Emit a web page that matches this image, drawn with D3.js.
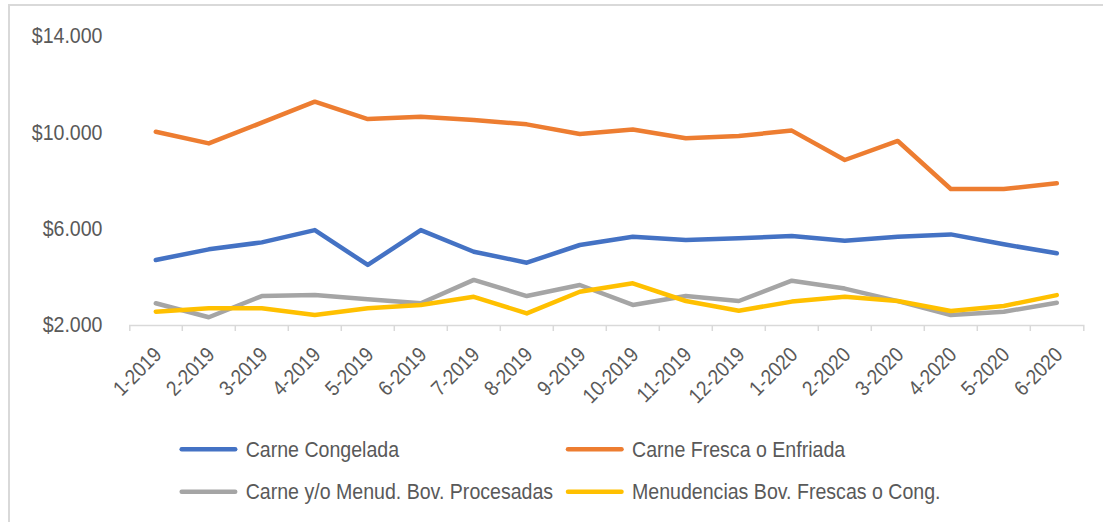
<!DOCTYPE html>
<html>
<head>
<meta charset="utf-8">
<script src="https://cdn.jsdelivr.net/npm/d3@7"></script>
<style>
  body { margin: 0; background: #ffffff; }
  text { font-family: "Liberation Sans", Arial, sans-serif; fill: #595959; }
</style>
</head>
<body>
<div id="chart"></div>
<script>
// Chart size
const FRAME_WIDTH = 1103;
const FRAME_HEIGHT = 522;

// Data
const MONTHS = ["1-2019", "2-2019", "3-2019", "4-2019", "5-2019", "6-2019", "7-2019", "8-2019", "9-2019",
  "10-2019", "11-2019", "12-2019", "1-2020", "2-2020", "3-2020", "4-2020", "5-2020", "6-2020"];

const CONGELADA = [4660, 5100, 5390, 5900, 4450, 5900, 5000, 4545, 5280,
  5625, 5490, 5560, 5650, 5460, 5625, 5720, 5310, 4935];
const FRESCA = [9985, 9500, 10360, 11230, 10510, 10610, 10470, 10290, 9890,
  10080, 9710, 9810, 10030, 8810, 9600, 7605, 7605, 7840];
const PROCESADAS = [2860, 2280, 3160, 3200, 3030, 2860, 3830, 3160, 3620,
  2790, 3160, 2955, 3800, 3470, 2950, 2370, 2510, 2880];
const MENUDENCIAS = [2510, 2650, 2650, 2370, 2650, 2790, 3130, 2440, 3340,
  3690, 2955, 2550, 2930, 3130, 2955, 2540, 2750, 3200];

const SERIES_NAMES = ["Carne Congelada", "Carne Fresca o Enfriada",
  "Carne y/o Menud. Bov. Procesadas", "Menudencias Bov. Frescas o Cong."];
const SERIES_VALUES = [CONGELADA, FRESCA, PROCESADAS, MENUDENCIAS];
const COLORS = ["#4472C4", "#ED7D31", "#A5A5A5", "#FFC000"];

const Y_TICKS = [2000, 6000, 10000, 14000];

// text in the picture is a bit narrow
const SQUEEZE = 0.89;

const FRAME = d3.select("#chart").append("svg")
    .attr("width", FRAME_WIDTH)
    .attr("height", FRAME_HEIGHT);

// chart border (only top and left show)
FRAME.append("path")
    .attr("d", "M9," + FRAME_HEIGHT + "V5H" + FRAME_WIDTH)
    .attr("fill", "none")
    .attr("stroke", "#d9d9d9")
    .attr("stroke-width", 2);

// Scales
const xSCALE = d3.scaleBand()
    .domain(MONTHS)
    .range([129.3, 1083.3]);

const ySCALE = d3.scaleLinear()
    .domain([2000, 14000])
    .range([324, 35]);

const locale = d3.formatLocale({decimal: ",", thousands: ".", grouping: [3], currency: ["$", ""]});
const money = locale.format("$,.0f");

// y-axis, labels only
const yAxis = FRAME.append("g")
    .attr("transform", "translate(102.5,0)")
    .call(d3.axisLeft(ySCALE).tickValues(Y_TICKS).tickFormat(money).tickSize(0).tickPadding(0));
yAxis.select(".domain").remove();
yAxis.selectAll("text")
    .attr("x", 0)
    .attr("dy", "0.35em")
    .attr("transform", "scale(" + SQUEEZE + ",1)")
    .attr("font-size", "22px")
    .attr("font-family", "Liberation Sans, Arial, sans-serif")
    .attr("fill", "#595959");

// x-axis
const xAxis = FRAME.append("g")
    .attr("transform", "translate(0,325)")
    .call(d3.axisBottom(xSCALE).tickSizeInner(0).tickSizeOuter(6));
xAxis.select(".domain")
    .attr("stroke", "#d9d9d9")
    .attr("stroke-width", 1.5);
xAxis.selectAll(".tick line").remove();
xAxis.selectAll("text")
    .attr("x", 0)
    .attr("y", 0)
    .attr("dy", 0)
    .attr("transform", "translate(7,31) rotate(-45) scale(" + SQUEEZE + ",1)")
    .attr("text-anchor", "end")
    .attr("font-size", "21px")
    .attr("font-family", "Liberation Sans, Arial, sans-serif")
    .attr("fill", "#595959");

// tick marks between categories
xAxis.selectAll(".sep")
    .data(MONTHS.slice(1))
    .enter()
    .append("line")
    .attr("class", "sep")
    .attr("x1", (d) => xSCALE(d))
    .attr("x2", (d) => xSCALE(d))
    .attr("y1", 0)
    .attr("y2", 6)
    .attr("stroke", "#d9d9d9")
    .attr("stroke-width", 1.5);

// lines
const line = d3.line()
    .x((d, i) => xSCALE(MONTHS[i]) + xSCALE.bandwidth() / 2)
    .y((d) => ySCALE(d));

FRAME.selectAll(".series")
    .data(SERIES_VALUES)
    .enter()
    .append("path")
    .attr("class", "series")
    .attr("d", (d) => line(d))
    .attr("fill", "none")
    .attr("stroke", (d, i) => COLORS[i])
    .attr("stroke-width", 4.5)
    .attr("stroke-linecap", "round")
    .attr("stroke-linejoin", "round");

// legend
const LEGEND_X = [181.7, 568];
const LEGEND_Y = [449.3, 491.7];

const legend = FRAME.selectAll(".legend")
    .data(SERIES_NAMES)
    .enter()
    .append("g")
    .attr("class", "legend")
    .attr("transform", (d, i) => "translate(" + LEGEND_X[i % 2] + "," + LEGEND_Y[Math.floor(i / 2)] + ")");

legend.append("line")
    .attr("x1", 0)
    .attr("x2", 53.5)
    .attr("stroke", (d, i) => COLORS[i])
    .attr("stroke-width", 4.5)
    .attr("stroke-linecap", "round");

legend.append("text")
    .attr("transform", "translate(64,0) scale(" + SQUEEZE + ",1)")
    .attr("dy", "0.35em")
    .attr("font-size", "22px")
    .text((d) => d);
</script>
</body>
</html>
